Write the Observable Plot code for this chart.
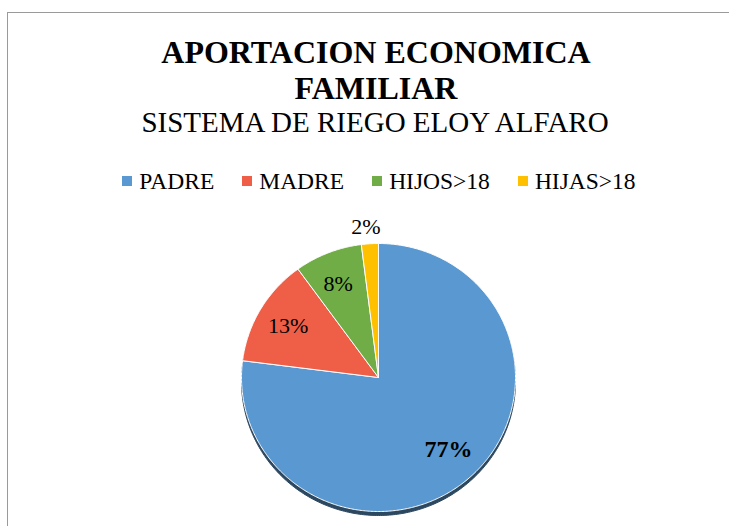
<!DOCTYPE html>
<html>
<head>
<meta charset="utf-8">
<script src="https://cdn.jsdelivr.net/npm/d3@7"></script>
<script src="https://cdn.jsdelivr.net/npm/@observablehq/plot@0.6"></script>
<style>
  html, body { margin: 0; padding: 0; background: #fff; width: 729px; height: 526px; overflow: hidden; }
  body { position: relative; color: #000; }
  .serif { font-family: 'Liberation Serif', Tinos, 'Nimbus Roman', serif; }
  #frame { position: absolute; left: 7px; top: 12px; width: 760px; height: 560px;
           border-top: 1.5px solid #9a9a9a; border-left: 1.5px solid #9a9a9a; box-sizing: border-box; }
  #title { position: absolute; left: 0; width: 752px; top: 34px; text-align: center;
           font-weight: bold; font-size: 32px; line-height: 36px; }
  #subtitle { position: absolute; left: 0; width: 750px; top: 106px; text-align: center;
              font-size: 29px; line-height: 32px; }
  #legend { position: absolute; left: 0; width: 758px; top: 167px; display: flex; justify-content: center;
            font-size: 23.5px; line-height: 28px; }
  .item { display: flex; align-items: center; margin: 0 14px; }
  .sw { width: 10px; height: 10px; margin-right: 7px; }
  #chart { position: absolute; left: 0; top: 200px; }
</style>
</head>
<body>
<div id="frame"></div>
<div id="title" class="serif">APORTACION ECONOMICA<br>FAMILIAR</div>
<div id="subtitle" class="serif">SISTEMA DE RIEGO ELOY ALFARO</div>
<div id="legend" class="serif"></div>
<div id="chart"></div>
<script>
const categories = ["PADRE", "MADRE", "HIJOS>18", "HIJAS>18"];
const values = [77, 13, 8, 2];
const labels = ["77%", "13%", "8%", "2%"];
const colors = ["#5A98D1", "#EF5F47", "#70AD47", "#FFC000"];

const FONT = "'Liberation Serif', Tinos, 'Nimbus Roman', serif";

// legend
const legend = document.getElementById("legend");
categories.forEach((c, i) => {
  const it = document.createElement("div");
  it.className = "item";
  const sw = document.createElement("span");
  sw.className = "sw";
  sw.style.background = colors[i];
  const tx = document.createElement("span");
  tx.textContent = c;
  it.appendChild(sw);
  it.appendChild(tx);
  legend.appendChild(it);
});

// pie geometry from values (angles clockwise from 12 o'clock)
const total = d3.sum(values);
const slices = [];
let acc = 0;
values.forEach((v, i) => {
  const a0 = acc / total * 2 * Math.PI;
  acc += v;
  const a1 = acc / total * 2 * Math.PI;
  slices.push({cat: categories[i], label: labels[i], a0, a1, value: v});
});
const pts = [];
const outline = [];
for (const s of slices) {
  pts.push({cat: s.cat, x: 0, y: 0});
  const n = Math.max(4, Math.ceil((s.a1 - s.a0) / 0.01));
  for (let k = 0; k <= n; k++) {
    const a = s.a0 + (s.a1 - s.a0) * k / n;
    pts.push({cat: s.cat, x: Math.sin(a), y: Math.cos(a)});
  }
  pts.push({cat: s.cat, x: 0, y: 0});
}
for (let k = 0; k <= 400; k++) {
  const a = 2 * Math.PI * k / 400;
  outline.push({x: Math.sin(a), y: Math.cos(a)});
}
const labelPts = slices.map(s => {
  const m = (s.a0 + s.a1) / 2;
  const r = s.value < 4 ? 1.12 : 0.74;
  return {label: s.label, x: r * Math.sin(m), y: r * Math.cos(m), bold: s.value > 50};
});

const chart = Plot.plot({
  width: 729,
  height: 326,
  margin: 0,
  x: {domain: [-1, 1], range: [241, 515], axis: null},
  y: {domain: [-1, 1], range: [311, 43], axis: null},
  color: {domain: categories, range: colors},
  style: {background: "transparent", overflow: "visible", fontFamily: FONT},
  marks: [
    Plot.line(outline, {x: "x", y: "y", fill: "#2c4861", stroke: "#2c4861", strokeWidth: 1, dy: 4}),
    Plot.line(pts, {x: "x", y: "y", z: "cat", fill: "cat", stroke: "white", strokeWidth: 1, strokeLinejoin: "round"}),
    Plot.text(labelPts.filter(d => !d.bold), {x: "x", y: "y", text: "label", fontSize: 22,
      fontFamily: FONT, fill: "black", dx: -3, dy: -1}),
    Plot.text(labelPts.filter(d => d.bold), {x: "x", y: "y", text: "label", fontSize: 24, fontWeight: "bold",
      fontFamily: FONT, fill: "black", dx: 3, dy: -3})
  ]
});
document.getElementById("chart").appendChild(chart);
</script>
</body>
</html>
